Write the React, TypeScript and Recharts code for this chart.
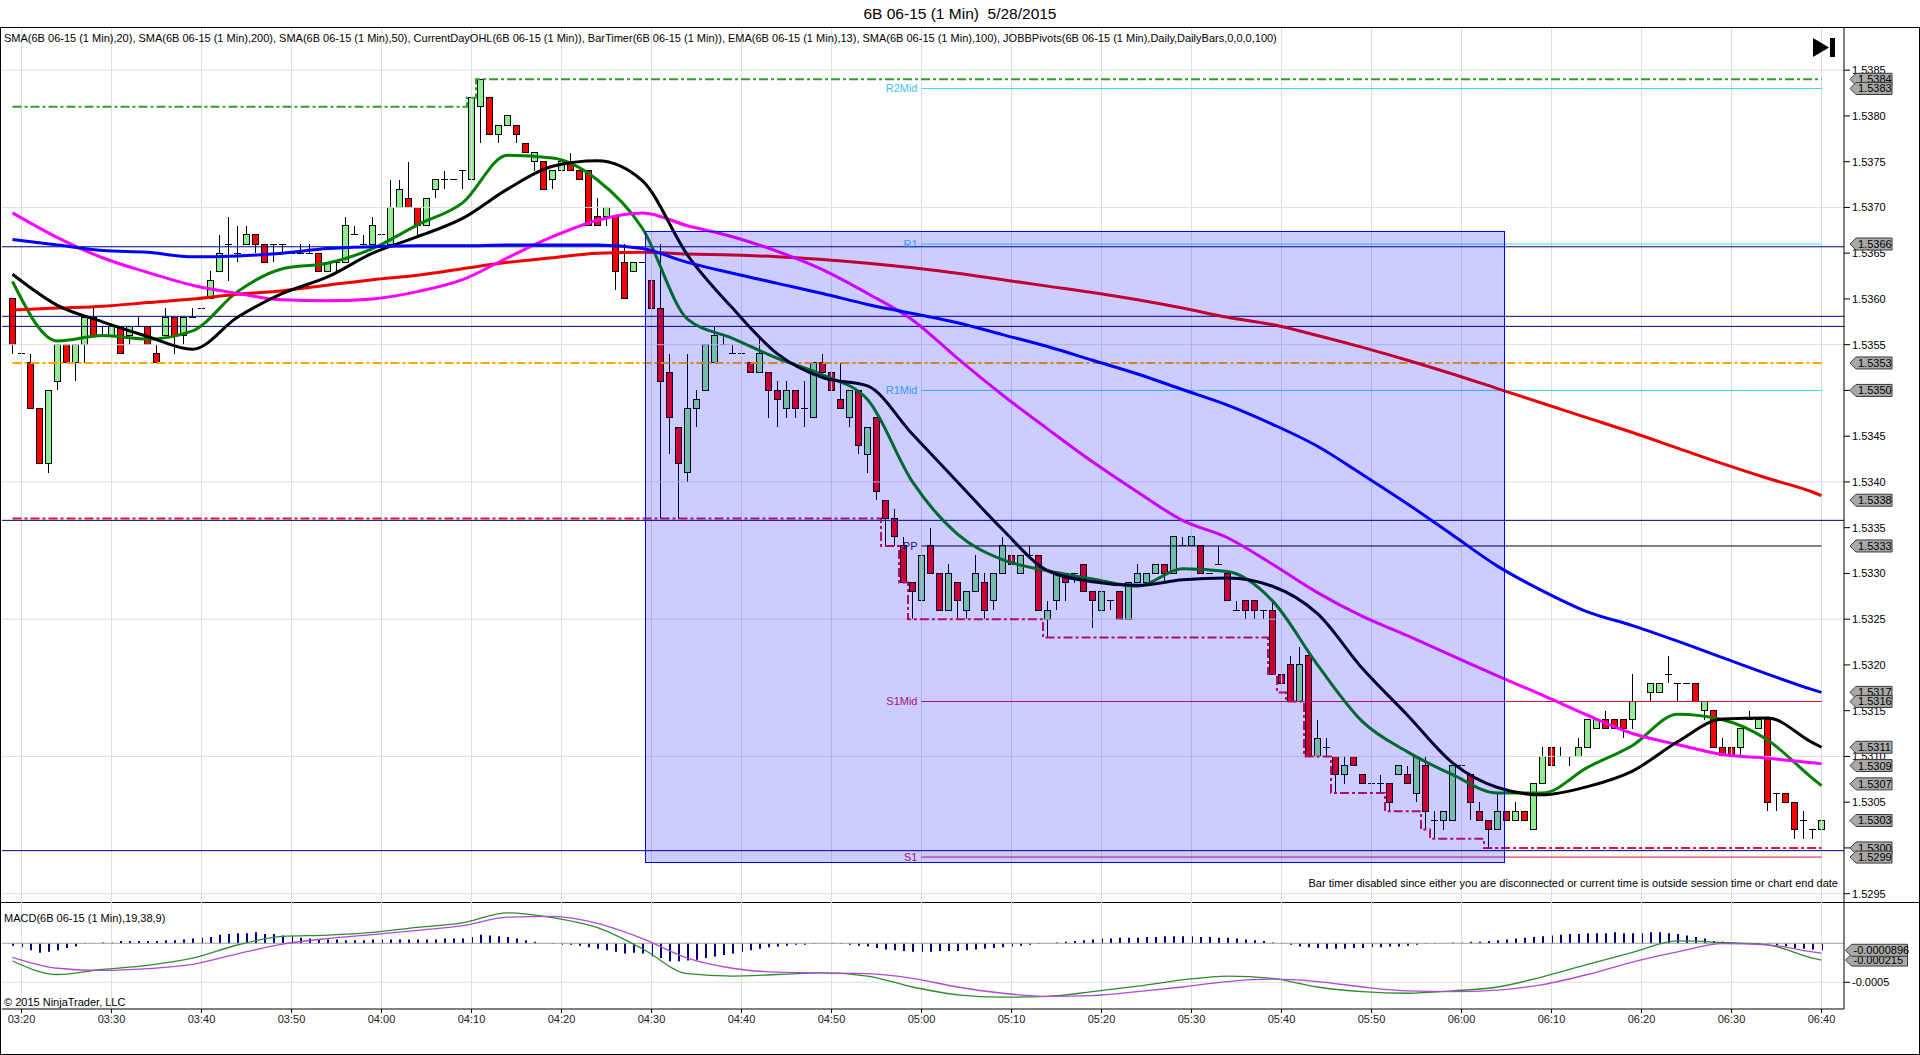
import React from "react";
import {
  ComposedChart,
  Bar,
  Line,
  XAxis,
  YAxis,
  ReferenceLine,
  ReferenceArea,
  ReferenceDot,
} from "recharts";

const FONT = '"Liberation Sans", Arial, sans-serif';

// first bar of the chart is 03:19, one bar per minute
const firstBar = { hour: 3, minute: 19 };

const tickLabels = [
  "03:20", "03:30", "03:40", "03:50", "04:00", "04:10", "04:20", "04:30", "04:40", "04:50", "05:00",
  "05:10", "05:20", "05:30", "05:40", "05:50", "06:00", "06:10", "06:20", "06:30", "06:40",
];
const priceTicks = [
  1.5295, 1.53, 1.5305, 1.531, 1.5315, 1.532, 1.5325, 1.533, 1.5335, 1.534, 1.5345, 1.535, 1.5355,
  1.536, 1.5365, 1.537, 1.5375, 1.538, 1.5385,
];
const priceGrid = [1.5295, 1.531, 1.5325, 1.534, 1.5355, 1.537, 1.5385];

// open, high, low, close
const ohlc: [number, number, number, number][] = [
  [1.5360, 1.5360, 1.5354, 1.5355], [1.5354, 1.5355, 1.5352, 1.5354], [1.5353, 1.5354, 1.5348, 1.5348], [1.5348, 1.5348, 1.5342, 1.5342], [1.5342, 1.5350, 1.5341, 1.5350],
  [1.5351, 1.5355, 1.5350, 1.5355], [1.5355, 1.5355, 1.5353, 1.5353], [1.5353, 1.5355, 1.5351, 1.5355], [1.5355, 1.5358, 1.5353, 1.5358], [1.5358, 1.5359, 1.5356, 1.5356],
  [1.5357, 1.5357, 1.5356, 1.5357], [1.5356, 1.5357, 1.5353, 1.5357], [1.5357, 1.5357, 1.5354, 1.5354], [1.5356, 1.5357, 1.5355, 1.5357], [1.5357, 1.5358, 1.5357, 1.5357],
  [1.5357, 1.5357, 1.5355, 1.5355], [1.5354, 1.5355, 1.5353, 1.5353], [1.5356, 1.5359, 1.5356, 1.5358], [1.5358, 1.5358, 1.5354, 1.5356], [1.5356, 1.5358, 1.5355, 1.5358],
  [1.5358, 1.5359, 1.5358, 1.5358], [1.5359, 1.5359, 1.5359, 1.5359], [1.5360, 1.5363, 1.5360, 1.5362], [1.5363, 1.5367, 1.5363, 1.5365], [1.5366, 1.5369, 1.5362, 1.5366],
  [1.5365, 1.5368, 1.5364, 1.5365], [1.5366, 1.5368, 1.5366, 1.5367], [1.5367, 1.5367, 1.5365, 1.5366], [1.5366, 1.5366, 1.5364, 1.5364], [1.5366, 1.5366, 1.5364, 1.5366],
  [1.5366, 1.5366, 1.5365, 1.5366], [1.5365, 1.5366, 1.5365, 1.5365], [1.5365, 1.5366, 1.5365, 1.5365], [1.5365, 1.5366, 1.5365, 1.5365], [1.5365, 1.5365, 1.5363, 1.5363],
  [1.5363, 1.5364, 1.5363, 1.5364], [1.5364, 1.5364, 1.5363, 1.5364], [1.5364, 1.5369, 1.5364, 1.5368], [1.5367, 1.5368, 1.5367, 1.5367], [1.5366, 1.5367, 1.5366, 1.5366],
  [1.5366, 1.5369, 1.5366, 1.5368], [1.5367, 1.5368, 1.5366, 1.5367], [1.5366, 1.5373, 1.5366, 1.5370], [1.5370, 1.5373, 1.5370, 1.5372], [1.5371, 1.5375, 1.5370, 1.5370],
  [1.5370, 1.5370, 1.5367, 1.5368], [1.5368, 1.5371, 1.5368, 1.5371], [1.5372, 1.5373, 1.5371, 1.5373], [1.5373, 1.5374, 1.5372, 1.5373], [1.5373, 1.5373, 1.5373, 1.5373],
  [1.5374, 1.5374, 1.5372, 1.5374], [1.5373, 1.5382, 1.5373, 1.5382], [1.5381, 1.5384, 1.5377, 1.5384], [1.5382, 1.5382, 1.5378, 1.5378], [1.5378, 1.5379, 1.5377, 1.5379],
  [1.5379, 1.5380, 1.5379, 1.5380], [1.5379, 1.5379, 1.5377, 1.5378], [1.5377, 1.5377, 1.5376, 1.5376], [1.5375, 1.5376, 1.5374, 1.5376], [1.5375, 1.5375, 1.5372, 1.5372],
  [1.5373, 1.5374, 1.5372, 1.5374], [1.5374, 1.5375, 1.5374, 1.5375], [1.5375, 1.5376, 1.5374, 1.5374], [1.5374, 1.5374, 1.5373, 1.5373], [1.5374, 1.5374, 1.5368, 1.5368],
  [1.5369, 1.5371, 1.5368, 1.5368], [1.5369, 1.5370, 1.5368, 1.5370], [1.5369, 1.5369, 1.5361, 1.5363], [1.5364, 1.5366, 1.5360, 1.5360], [1.5363, 1.5364, 1.5363, 1.5364],
  [1.5364, 1.5364, 1.5364, 1.5364], [1.5362, 1.5363, 1.5355, 1.5359], [1.5359, 1.5366, 1.5336, 1.5351], [1.5352, 1.5354, 1.5343, 1.5347], [1.5346, 1.5346, 1.5336, 1.5342],
  [1.5341, 1.5354, 1.5340, 1.5348], [1.5348, 1.5350, 1.5346, 1.5349], [1.5350, 1.5355, 1.5350, 1.5355], [1.5353, 1.5357, 1.5353, 1.5356], [1.5355, 1.5356, 1.5355, 1.5355],
  [1.5354, 1.5355, 1.5354, 1.5354], [1.5354, 1.5354, 1.5353, 1.5354], [1.5353, 1.5353, 1.5352, 1.5352], [1.5352, 1.5356, 1.5352, 1.5354], [1.5352, 1.5352, 1.5347, 1.5350],
  [1.5350, 1.5351, 1.5346, 1.5349], [1.5348, 1.5351, 1.5347, 1.5350], [1.5350, 1.5350, 1.5347, 1.5348], [1.5348, 1.5351, 1.5346, 1.5348], [1.5347, 1.5353, 1.5347, 1.5353],
  [1.5353, 1.5354, 1.5352, 1.5352], [1.5352, 1.5352, 1.5350, 1.5350], [1.5349, 1.5353, 1.5348, 1.5348], [1.5347, 1.5350, 1.5346, 1.5350], [1.5350, 1.5350, 1.5343, 1.5344],
  [1.5343, 1.5346, 1.5341, 1.5346], [1.5347, 1.5347, 1.5338, 1.5339], [1.5338, 1.5338, 1.5333, 1.5336], [1.5336, 1.5337, 1.5333, 1.5334], [1.5333, 1.5334, 1.5329, 1.5329],
  [1.5329, 1.5329, 1.5325, 1.5328], [1.5327, 1.5333, 1.5326, 1.5332], [1.5333, 1.5335, 1.5330, 1.5330], [1.5330, 1.5330, 1.5326, 1.5326], [1.5326, 1.5331, 1.5326, 1.5330],
  [1.5329, 1.5329, 1.5325, 1.5327], [1.5326, 1.5328, 1.5325, 1.5328], [1.5328, 1.5332, 1.5328, 1.5330], [1.5329, 1.5330, 1.5325, 1.5326], [1.5327, 1.5330, 1.5326, 1.5330],
  [1.5330, 1.5334, 1.5330, 1.5333], [1.5332, 1.5332, 1.5331, 1.5331], [1.5330, 1.5332, 1.5330, 1.5332], [1.5332, 1.5333, 1.5332, 1.5332], [1.5332, 1.5332, 1.5326, 1.5326],
  [1.5325, 1.5327, 1.5323, 1.5326], [1.5327, 1.5330, 1.5326, 1.5330], [1.5330, 1.5330, 1.5327, 1.5329], [1.5330, 1.5330, 1.5329, 1.5330], [1.5331, 1.5331, 1.5328, 1.5328],
  [1.5328, 1.5328, 1.5324, 1.5327], [1.5326, 1.5328, 1.5326, 1.5328], [1.5327, 1.5327, 1.5326, 1.5327], [1.5328, 1.5328, 1.5325, 1.5325], [1.5325, 1.5329, 1.5325, 1.5329],
  [1.5329, 1.5331, 1.5329, 1.5330], [1.5329, 1.5330, 1.5329, 1.5330], [1.5330, 1.5331, 1.5330, 1.5331], [1.5331, 1.5331, 1.5329, 1.5330], [1.5330, 1.5334, 1.5330, 1.5334],
  [1.5333, 1.5334, 1.5333, 1.5333], [1.5333, 1.5334, 1.5333, 1.5334], [1.5333, 1.5333, 1.5330, 1.5330], [1.5330, 1.5330, 1.5330, 1.5330], [1.5331, 1.5333, 1.5331, 1.5331],
  [1.5330, 1.5330, 1.5327, 1.5327], [1.5326, 1.5327, 1.5326, 1.5326], [1.5327, 1.5327, 1.5325, 1.5326], [1.5327, 1.5327, 1.5325, 1.5326], [1.5326, 1.5326, 1.5325, 1.5326],
  [1.5326, 1.5327, 1.5319, 1.5319], [1.5319, 1.5319, 1.5317, 1.5318], [1.5320, 1.5321, 1.5316, 1.5316], [1.5316, 1.5322, 1.5316, 1.5320], [1.5321, 1.5321, 1.5310, 1.5310],
  [1.5310, 1.5314, 1.5310, 1.5312], [1.5311, 1.5312, 1.5310, 1.5311], [1.5310, 1.5310, 1.5306, 1.5308], [1.5308, 1.5310, 1.5307, 1.5309], [1.5310, 1.5310, 1.5309, 1.5309],
  [1.5308, 1.5308, 1.5307, 1.5307], [1.5307, 1.5308, 1.5306, 1.5307], [1.5307, 1.5308, 1.5306, 1.5307], [1.5307, 1.5307, 1.5304, 1.5305], [1.5308, 1.5309, 1.5308, 1.5309],
  [1.5308, 1.5309, 1.5307, 1.5307], [1.5306, 1.5310, 1.5305, 1.5310], [1.5309, 1.5310, 1.5302, 1.5304], [1.5303, 1.5304, 1.5301, 1.5303], [1.5303, 1.5304, 1.5302, 1.5304],
  [1.5303, 1.5309, 1.5303, 1.5309], [1.5309, 1.5310, 1.5308, 1.5309], [1.5308, 1.5308, 1.5303, 1.5305], [1.5304, 1.5305, 1.5303, 1.5303], [1.5303, 1.5303, 1.5300, 1.5302],
  [1.5302, 1.5306, 1.5302, 1.5304], [1.5304, 1.5304, 1.5303, 1.5303], [1.5303, 1.5305, 1.5303, 1.5304], [1.5304, 1.5304, 1.5303, 1.5303], [1.5302, 1.5307, 1.5302, 1.5307],
  [1.5307, 1.5311, 1.5307, 1.5310], [1.5311, 1.5311, 1.5309, 1.5309], [1.5310, 1.5311, 1.5310, 1.5310], [1.5310, 1.5310, 1.5309, 1.5310], [1.5310, 1.5312, 1.5310, 1.5311],
  [1.5311, 1.5314, 1.5311, 1.5314], [1.5313, 1.5314, 1.5313, 1.5314], [1.5314, 1.5315, 1.5313, 1.5313], [1.5314, 1.5314, 1.5313, 1.5313], [1.5314, 1.5314, 1.5312, 1.5313],
  [1.5314, 1.5319, 1.5313, 1.5316], [1.5316, 1.5316, 1.5315, 1.5316], [1.5317, 1.5318, 1.5316, 1.5318], [1.5317, 1.5318, 1.5317, 1.5318], [1.5319, 1.5321, 1.5318, 1.5319],
  [1.5318, 1.5318, 1.5316, 1.5318], [1.5318, 1.5318, 1.5318, 1.5318], [1.5318, 1.5318, 1.5316, 1.5316], [1.5315, 1.5316, 1.5314, 1.5316], [1.5315, 1.5315, 1.5311, 1.5311],
  [1.5311, 1.5312, 1.5310, 1.5310], [1.5311, 1.5311, 1.5310, 1.5310], [1.5311, 1.5313, 1.5310, 1.5313], [1.5314, 1.5315, 1.5314, 1.5314], [1.5313, 1.5314, 1.5313, 1.5314],
  [1.5314, 1.5314, 1.5304, 1.5305], [1.5306, 1.5306, 1.5304, 1.5306], [1.5306, 1.5306, 1.5305, 1.5305], [1.5305, 1.5305, 1.5301, 1.5302], [1.5303, 1.5304, 1.5301, 1.5303],
  [1.5302, 1.5302, 1.5301, 1.5302], [1.5302, 1.5303, 1.5302, 1.5303],
];

// moving averages read every 5th bar (03:19, 03:24, ...), last entry = final bar 06:40
const SAMPLE_STEP = 5;
const sma20 = [
  1.53619, 1.53554, 1.5356, 1.53556, 1.53565, 1.53608, 1.53633, 1.53639, 1.53655, 1.53681,
  1.53705, 1.53757, 1.53754, 1.5373, 1.53677, 1.53578, 1.53557, 1.53535, 1.53517, 1.5349,
  1.534, 1.53343, 1.53315, 1.53303, 1.53294, 1.53286, 1.53305, 1.53302, 1.5327, 1.532,
  1.53138, 1.53105, 1.5308, 1.5306, 1.5306, 1.53088, 1.53112, 1.53146, 1.5314, 1.53118,
  1.53076, 1.53068,
];
const ema13 = [
  1.53627, 1.53593, 1.53575, 1.53559, 1.53545, 1.5358, 1.53606, 1.53624, 1.5365, 1.53668,
  1.53688, 1.5372, 1.53745, 1.53751, 1.53729, 1.53648, 1.5359, 1.5354, 1.53514, 1.53505,
  1.53452, 1.534, 1.53348, 1.53303, 1.53291, 1.53287, 1.53293, 1.53295, 1.53286, 1.53256,
  1.53196, 1.53145, 1.53093, 1.53066, 1.53058, 1.53067, 1.53084, 1.53116, 1.53141, 1.53142,
  1.53115, 1.5311,
];
const sma50 = [
  1.53694, 1.53667, 1.53645, 1.53629, 1.53615, 1.53606, 1.53599, 1.53598, 1.536, 1.53608,
  1.53621, 1.53645, 1.53668, 1.53686, 1.53694, 1.5368, 1.53668, 1.53652, 1.53632, 1.53606,
  1.53577, 1.53535, 1.53495, 1.53458, 1.53422, 1.53389, 1.53358, 1.53339, 1.5331, 1.53279,
  1.53253, 1.53232, 1.5321, 1.53188, 1.53167, 1.53145, 1.53125, 1.53113, 1.53102, 1.53098,
  1.53093, 1.53092,
];
const sma100 = [
  1.53665, 1.53659, 1.53653, 1.53651, 1.53646, 1.53647, 1.5365, 1.53655, 1.53657, 1.53658,
  1.53658, 1.53659, 1.53659, 1.53659, 1.53655, 1.5364, 1.53628, 1.53617, 1.53606, 1.53594,
  1.53584, 1.53574, 1.53561, 1.53548, 1.53533, 1.53518, 1.53501, 1.53484, 1.53463, 1.53439,
  1.53408, 1.53376, 1.53342, 1.53308, 1.53281, 1.53258, 1.53243, 1.53226, 1.53208, 1.5319,
  1.53173, 1.5317,
];
const sma200 = [
  1.53588, 1.5359, 1.53592, 1.53596, 1.536, 1.53605, 1.53609, 1.53615, 1.53621, 1.53626,
  1.53633, 1.5364, 1.53645, 1.5365, 1.53651, 1.53649, 1.53648, 1.53646, 1.53643, 1.53639,
  1.53634, 1.53628, 1.53621, 1.53614, 1.53607, 1.53599, 1.5359, 1.5358, 1.53572, 1.5356,
  1.53547, 1.53533, 1.53518, 1.53502, 1.53486, 1.5347, 1.53454, 1.53437, 1.5342, 1.53404,
  1.53389, 1.53385,
];
const macdLine = [
  -0.000227, -0.0004, -0.000335, -0.000282, -0.00019, -0.000022, 0.000088, 0.000105, 0.00014, 0.000205,
  0.000262, 0.00039, 0.00033, 0.0002, -0.00007, -0.00039, -0.00042, -0.0004, -0.00038, -0.00042,
  -0.00056, -0.00066, -0.00069, -0.00068, -0.00062, -0.00055, -0.00047, -0.00042, -0.00045, -0.00056,
  -0.00062, -0.00064, -0.00061, -0.00056, -0.00043, -0.00027, -0.000115, 0.00003, 0.00001, -0.00002,
  -0.00019, -0.000215,
];
const macdAvg = [
  -0.00018, -0.00032, -0.000348, -0.000325, -0.00027, -0.000135, -0.00001, 0.00006, 0.00011, 0.000165,
  0.000225, 0.000335, 0.000345, 0.000255, 0.00006, -0.00019, -0.00032, -0.00037, -0.00038, -0.00039,
  -0.00045, -0.00056, -0.00064, -0.00068, -0.00067, -0.00062, -0.00056, -0.00049, -0.00046, -0.00049,
  -0.00056, -0.00061, -0.00062, -0.0006, -0.00053, -0.0004, -0.00024, -0.00011, -0.000005, -0.00002,
  -0.00011, -0.000125,
];
// MACD diff per bar, in units of 1e-5
const macdDiffE5 = [
  -3, -5, -9, -12, -11, -9, -6, -4, -1, 0, 1, 1, 3, 3, 3, 3, 3, 4, 4, 5,
  6, 7, 8, 11, 12, 13, 13, 14, 12, 12, 10, 9, 7, 6, 5, 5, 5, 4, 4, 4,
  5, 5, 5, 5, 5, 5, 5, 5, 6, 6, 6, 8, 11, 10, 9, 8, 6, 4, 2, 0,
  -1, -2, -2, -3, -5, -7, -9, -11, -13, -12, -13, -17, -19, -23, -23, -22, -21, -19, -17, -15,
  -13, -11, -9, -7, -5, -4, -3, -2, -2, -1, 0, -1, -1, -2, -3, -4, -6, -8, -9, -10,
  -11, -11, -11, -10, -10, -10, -9, -8, -7, -6, -5, -4, -3, -2, -1, 0, 1, 2, 3, 4,
  5, 6, 6, 7, 7, 7, 8, 8, 9, 9, 9, 9, 8, 8, 7, 7, 6, 5, 4, 3,
  1, -1, -2, -4, -5, -6, -7, -7, -7, -6, -6, -5, -5, -4, -4, -3, -2, -1, -1, 0,
  1, 1, 2, 2, 3, 4, 5, 6, 7, 8, 9, 10, 11, 12, 12, 13, 13, 13, 14, 13,
  13, 13, 14, 14, 13, 12, 10, 8, 6, 3, 2, 1, 0, 0, -1, -1, -3, -4, -6, -7,
  -8, -9,
];

const priorDayHigh = 1.5381;
const priorDayLow = 1.5336;
const dayOpen = 1.5353;
const pivotStart = "05:00";
const pivots = [
  { name: "R2Mid", value: 1.5383, color: "#40D8F0", text: "#3CC4F0" },
  { name: "R1", value: 1.5366, color: "#40D8F0", text: "#3CC4F0" },
  { name: "R1Mid", value: 1.535, color: "#40D8F0", text: "#3CC4F0" },
  { name: "PP", value: 1.5333, color: "#000000", text: "#202060" },
  { name: "S1Mid", value: 1.5316, color: "#E0103C", text: "#CC2050" },
  { name: "S1", value: 1.5299, color: "#E0103C", text: "#CC2050" },
];
const navyLevels = [1.53657, 1.53581, 1.5357, 1.53358, 1.52997];
const rangeBox = { from: "04:29", to: "06:05", low: 1.52984, high: 1.53674 };
const priceTags = [1.5384, 1.5383, 1.5366, 1.5353, 1.535, 1.5338, 1.5333, 1.5317, 1.5316, 1.5311, 1.5309, 1.5307, 1.5303, 1.53, 1.5299];
const macdTags = [-0.000215, -0.0000896];

const PRICE_DOMAIN = [1.529409, 1.538961];
const MACD_DOMAIN = [-0.000842, 0.000529];

const times = ohlc.map((_, i) => {
  const m = firstBar.hour * 60 + firstBar.minute + i;
  return `${String(Math.floor(m / 60)).padStart(2, "0")}:${String(m % 60).padStart(2, "0")}`;
});
const lastIdx = ohlc.length - 1;
const lastTime = times[lastIdx];

function sampled(arr: number[], i: number) {
  if (i === lastIdx) return arr[arr.length - 1];
  return i % SAMPLE_STEP === 0 ? arr[i / SAMPLE_STEP] : null;
}

let runHigh = priorDayHigh;
let runLow = priorDayLow;
const priceRows = ohlc.map(([o, h, l, c], i) => {
  runHigh = Math.max(runHigh, h);
  runLow = Math.min(runLow, l);
  return {
    t: times[i],
    o, h, l, c,
    range: [l, h],
    sma20: sampled(sma20, i),
    ema13: sampled(ema13, i),
    sma50: sampled(sma50, i),
    sma100: sampled(sma100, i),
    sma200: sampled(sma200, i),
    dayHigh: runHigh,
    dayLow: runLow,
    dayOpen,
  };
});

const macdRows = times.map((t, i) => ({
  t,
  diff: macdDiffE5[i] * 1e-5,
  macd: sampled(macdLine, i),
  avg: sampled(macdAvg, i),
}));

const UP = "#90EE90";
const DOWN = "#FF0000";
const GRID = "#DEDEDE";
const X_PAD = { left: 6, right: 18 };
const MARGIN_PRICE = { top: 28, right: 1, bottom: 0, left: 2 };

function Candle(props: any) {
  const { x, y, width, height, payload } = props;
  if (x == null || payload == null) return null;
  const cx = x + width / 2;
  const top = Math.min(y, y + height);
  const bot = Math.max(y, y + height);
  const { o, h, l, c } = payload;
  const span = h - l;
  const py = (p: number) => (span === 0 ? top : top + ((h - p) / span) * (bot - top));
  const bTop = py(Math.max(o, c));
  const bBot = py(Math.min(o, c));
  return (
    <g shapeRendering="crispEdges">
      {bot > top && <line x1={cx} x2={cx} y1={top} y2={bot} stroke="#000" />}
      {o === c ? (
        <line x1={cx - 3.5} x2={cx + 3.5} y1={bTop} y2={bTop} stroke="#000" />
      ) : (
        <rect x={cx - 3} y={bTop} width={6} height={bBot - bTop} fill={c > o ? UP : DOWN} stroke="#000" />
      )}
    </g>
  );
}

function Tag(props: any) {
  const { cx, cy, text, w } = props;
  if (cx == null) return null;
  const x0 = cx + 24;
  return (
    <g>
      <polygon
        points={`${x0},${cy} ${x0 + 6},${cy - 6} ${x0 + 6 + w},${cy - 6} ${x0 + 6 + w},${cy + 6} ${x0 + 6},${cy + 6}`}
        fill="#A9A9A9"
        stroke="#3A3A3A"
      />
      <text x={x0 + 8} y={cy} dy="0.36em" fontSize={11} fontFamily={FONT} fill="#000">
        {text}
      </text>
    </g>
  );
}

const dash = "9 3 3 3";

function maLine(key: string, color: string) {
  return (
    <Line
      key={key}
      dataKey={key}
      type="monotone"
      stroke={color}
      strokeWidth={3}
      dot={false}
      activeDot={false}
      connectNulls
      isAnimationActive={false}
    />
  );
}

function PriceChart() {
  return (
    <ComposedChart width={1920} height={902} data={priceRows} margin={MARGIN_PRICE} barCategoryGap={0}>
      <XAxis dataKey="t" hide padding={X_PAD} />
      <YAxis
        orientation="right"
        width={75}
        domain={PRICE_DOMAIN}
        allowDataOverflow
        ticks={priceTicks}
        interval={0}
        tickFormatter={(v: number) => v.toFixed(4)}
        tickSize={6}
        axisLine={{ stroke: "#000" }}
        tickLine={{ stroke: "#000" }}
        tick={{ fontSize: 11, fill: "#000", fontFamily: FONT }}
      />
      {priceGrid.map((v) => (
        <ReferenceLine key={`g${v}`} y={v} stroke={GRID} />
      ))}
      {tickLabels.map((t) => (
        <ReferenceLine key={`v${t}`} x={t} stroke={GRID} />
      ))}
      {navyLevels.map((v) => (
        <ReferenceLine key={`n${v}`} y={v} stroke="#000080" />
      ))}
      {pivots.map((p) => (
        <ReferenceLine
          key={p.name}
          segment={[{ x: pivotStart, y: p.value }, { x: lastTime, y: p.value }]}
          stroke={p.color}
          label={{ value: p.name, position: "left", offset: 4, fill: p.text, fontSize: 11, fontFamily: FONT }}
        />
      ))}
      <Line dataKey="dayOpen" type="linear" stroke="#FFA500" strokeWidth={2} strokeDasharray={dash} dot={false} activeDot={false} isAnimationActive={false} />
      <Line dataKey="dayHigh" type="step" stroke="#339933" strokeWidth={2} strokeDasharray={dash} dot={false} activeDot={false} isAnimationActive={false} />
      <Line dataKey="dayLow" type="step" stroke="#DC143C" strokeWidth={2} strokeDasharray={dash} dot={false} activeDot={false} isAnimationActive={false} />
      {maLine("sma20", "#008000")}
      {maLine("sma200", "#F00000")}
      {maLine("sma50", "#FF00FF")}
      {maLine("ema13", "#000000")}
      {maLine("sma100", "#0000FF")}
      <Bar dataKey="range" shape={<Candle />} isAnimationActive={false} />
    </ComposedChart>
  );
}

// drawn on top of the price panel: the translucent range box and the value tags
function PriceOverlay() {
  return (
    <ComposedChart width={1920} height={902} data={priceRows} margin={{ ...MARGIN_PRICE, right: 76 }} barCategoryGap={0}>
      <XAxis dataKey="t" hide padding={X_PAD} />
      <YAxis hide domain={PRICE_DOMAIN} allowDataOverflow />
      <ReferenceArea
        x1={rangeBox.from}
        x2={rangeBox.to}
        y1={rangeBox.low}
        y2={rangeBox.high}
        shape={(p: any) => (
          <rect
            x={p.x + 4.5}
            y={p.y}
            width={p.width - 9}
            height={p.height}
            fill="#0000FF"
            fillOpacity={0.2}
            stroke="#0000FF"
            shapeRendering="crispEdges"
          />
        )}
      />
      {priceTags.map((v, i) => (
        <ReferenceDot
          key={`tag${i}`}
          x={lastTime}
          y={v}
          r={0}
          shape={(p: any) => <Tag cx={p.cx} cy={p.cy} text={v.toFixed(4)} w={36} />}
        />
      ))}
    </ComposedChart>
  );
}

function MacdChart() {
  return (
    <ComposedChart width={1920} height={152} data={macdRows} margin={{ top: 0, right: 1, bottom: 15, left: 2 }} barCategoryGap={0}>
      <XAxis
        dataKey="t"
        padding={X_PAD}
        ticks={tickLabels}
        interval={0}
        height={30}
        tickSize={4}
        axisLine={{ stroke: "#000" }}
        tickLine={{ stroke: "#000" }}
        tick={{ fontSize: 11, fill: "#222", fontFamily: FONT }}
      />
      <YAxis
        orientation="right"
        width={75}
        domain={MACD_DOMAIN}
        allowDataOverflow
        ticks={[-0.0005]}
        interval={0}
        tickFormatter={(v: number) => v.toFixed(4)}
        tickSize={6}
        axisLine={{ stroke: "#000" }}
        tickLine={{ stroke: "#000" }}
        tick={{ fontSize: 11, fill: "#000", fontFamily: FONT }}
      />
      <ReferenceLine y={-0.0005} stroke={GRID} />
      {tickLabels.map((t) => (
        <ReferenceLine key={`mv${t}`} x={t} stroke={GRID} />
      ))}
      <ReferenceLine y={0} stroke="#A0A0A0" />
      <Bar dataKey="diff" fill="#000080" barSize={2} isAnimationActive={false} />
      <Line dataKey="macd" type="monotone" stroke="#2E8B2E" strokeWidth={1.3} dot={false} activeDot={false} connectNulls isAnimationActive={false} />
      <Line dataKey="avg" type="monotone" stroke="#B048D8" strokeWidth={1.3} dot={false} activeDot={false} connectNulls isAnimationActive={false} />
      {macdTags.map((v, i) => (
        <ReferenceDot
          key={`mt${i}`}
          x={lastTime}
          y={v}
          r={0}
          shape={(p: any) => <Tag cx={p.cx} cy={p.cy} text={String(v)} w={56} />}
        />
      ))}
    </ComposedChart>
  );
}

const textStyle: React.CSSProperties = {
  position: "absolute",
  fontSize: 11,
  lineHeight: "13px",
  whiteSpace: "pre",
  color: "#000",
};

export default function App() {
  return (
    <div
      style={{
        position: "absolute",
        left: 0,
        top: 0,
        width: 1920,
        height: 1055,
        background: "#fff",
        fontFamily: FONT,
        overflow: "hidden",
      }}
    >
      <div style={{ ...textStyle, top: 5, left: 0, width: 1920, textAlign: "center", fontSize: 15.5, lineHeight: "18px" }}>
        {"6B 06-15 (1 Min)  5/28/2015"}
      </div>
      <div
        style={{
          position: "absolute",
          left: 0,
          top: 27,
          width: 1920,
          height: 1028,
          border: "1px solid #000",
          boxSizing: "border-box",
        }}
      />
      <div style={{ position: "absolute", left: 0, top: 902, width: 1920, height: 1, background: "#000" }} />
      <div style={{ position: "absolute", left: 0, top: 0 }}>
        <PriceChart />
      </div>
      <div style={{ position: "absolute", left: 0, top: 0, pointerEvents: "none" }}>
        <PriceOverlay />
      </div>
      <div style={{ position: "absolute", left: 0, top: 902 }}>
        <MacdChart />
      </div>
      <div style={{ ...textStyle, left: 4, top: 32 }}>
        {"SMA(6B 06-15 (1 Min),20), SMA(6B 06-15 (1 Min),200), SMA(6B 06-15 (1 Min),50), CurrentDayOHL(6B 06-15 (1 Min)), BarTimer(6B 06-15 (1 Min)), EMA(6B 06-15 (1 Min),13), SMA(6B 06-15 (1 Min),100), JOBBPivots(6B 06-15 (1 Min),Daily,DailyBars,0,0,0,100)"}
      </div>
      <div style={{ ...textStyle, right: 82, top: 877, textAlign: "right" }}>
        Bar timer disabled since either you are disconnected or current time is outside session time or chart end date
      </div>
      <div style={{ ...textStyle, left: 4, top: 912 }}>MACD(6B 06-15 (1 Min),19,38,9)</div>
      <div style={{ ...textStyle, left: 4, top: 996 }}>© 2015 NinjaTrader, LLC</div>
      <svg style={{ position: "absolute", left: 1810, top: 36 }} width={28} height={24}>
        <polygon points="3,2 19,11.5 3,21" fill="#000" />
        <rect x={20} y={2} width={5} height={19} fill="#000" />
      </svg>
    </div>
  );
}
